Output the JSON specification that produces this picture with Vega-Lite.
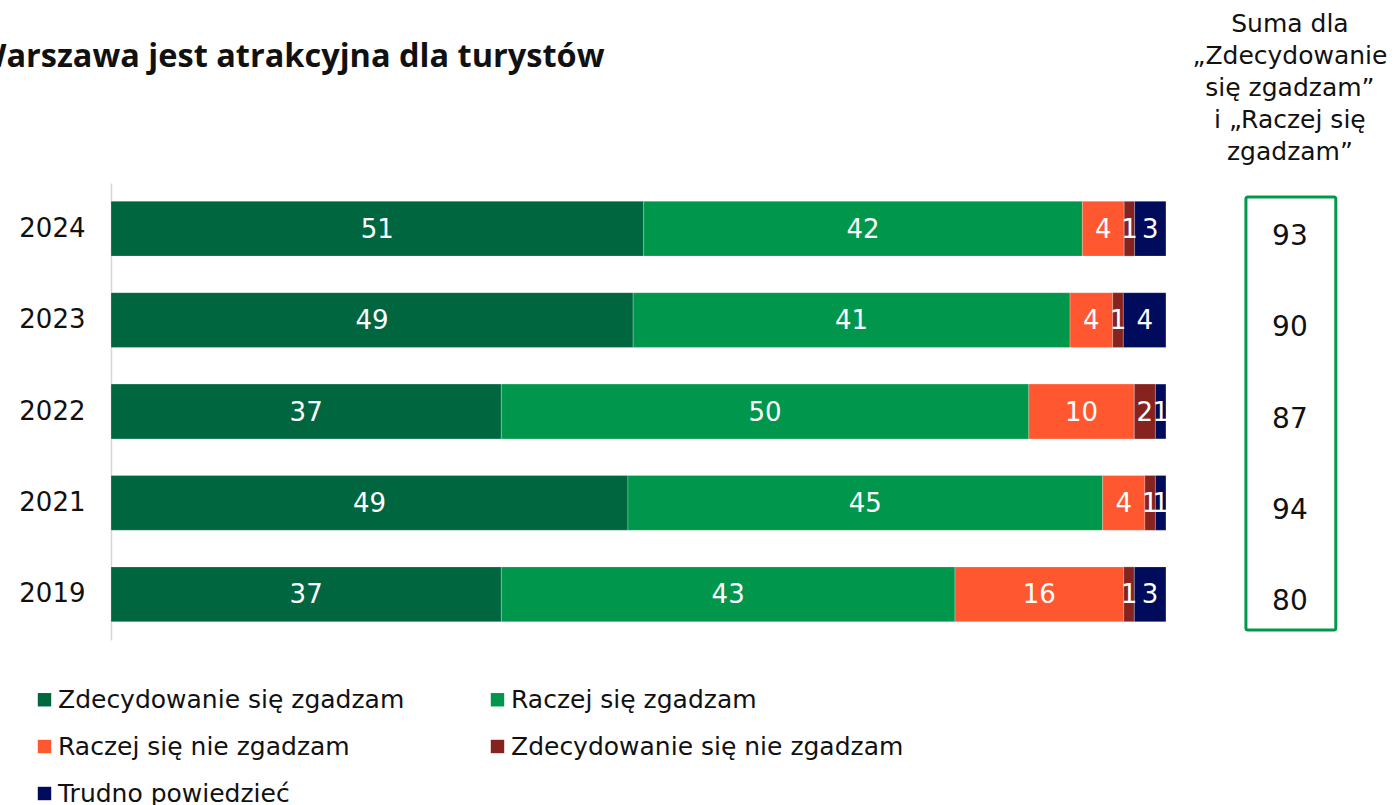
{
  "$schema": "https://vega.github.io/schema/vega-lite/v6.json",
  "width": 1288,
  "height": 457,
  "autosize": {"type": "none"},
  "padding": {"left": 111, "top": 183, "right": 0, "bottom": 165},
  "background": "white",
  "config": {
    "view": {"stroke": null},
    "font": "DejaVu Sans",
    "legend": {
      "orient": "none",
      "legendX": -79,
      "legendY": 504,
      "direction": "horizontal",
      "columns": 2,
      "columnPadding": 80,
      "rowPadding": 21,
      "symbolType": "square",
      "symbolSize": 180,
      "symbolStrokeWidth": 0,
      "labelFontSize": 25,
      "labelColor": "#111111",
      "labelFont": "DejaVu Sans",
      "labelOffset": 1,
      "labelLimit": 600,
      "title": null
    }
  },
  "datasets": {
    "bars": [
      {"year": "2024", "cat": "Zdecydowanie się zgadzam", "o": 1, "value": 51},
      {"year": "2024", "cat": "Raczej się zgadzam", "o": 2, "value": 42},
      {"year": "2024", "cat": "Raczej się nie zgadzam", "o": 3, "value": 4},
      {"year": "2024", "cat": "Zdecydowanie się nie zgadzam", "o": 4, "value": 1},
      {"year": "2024", "cat": "Trudno powiedzieć", "o": 5, "value": 3},
      {"year": "2023", "cat": "Zdecydowanie się zgadzam", "o": 1, "value": 49},
      {"year": "2023", "cat": "Raczej się zgadzam", "o": 2, "value": 41},
      {"year": "2023", "cat": "Raczej się nie zgadzam", "o": 3, "value": 4},
      {"year": "2023", "cat": "Zdecydowanie się nie zgadzam", "o": 4, "value": 1},
      {"year": "2023", "cat": "Trudno powiedzieć", "o": 5, "value": 4},
      {"year": "2022", "cat": "Zdecydowanie się zgadzam", "o": 1, "value": 37},
      {"year": "2022", "cat": "Raczej się zgadzam", "o": 2, "value": 50},
      {"year": "2022", "cat": "Raczej się nie zgadzam", "o": 3, "value": 10},
      {"year": "2022", "cat": "Zdecydowanie się nie zgadzam", "o": 4, "value": 2},
      {"year": "2022", "cat": "Trudno powiedzieć", "o": 5, "value": 1},
      {"year": "2021", "cat": "Zdecydowanie się zgadzam", "o": 1, "value": 49},
      {"year": "2021", "cat": "Raczej się zgadzam", "o": 2, "value": 45},
      {"year": "2021", "cat": "Raczej się nie zgadzam", "o": 3, "value": 4},
      {"year": "2021", "cat": "Zdecydowanie się nie zgadzam", "o": 4, "value": 1},
      {"year": "2021", "cat": "Trudno powiedzieć", "o": 5, "value": 1},
      {"year": "2019", "cat": "Zdecydowanie się zgadzam", "o": 1, "value": 37},
      {"year": "2019", "cat": "Raczej się zgadzam", "o": 2, "value": 43},
      {"year": "2019", "cat": "Raczej się nie zgadzam", "o": 3, "value": 16},
      {"year": "2019", "cat": "Zdecydowanie się nie zgadzam", "o": 4, "value": 1},
      {"year": "2019", "cat": "Trudno powiedzieć", "o": 5, "value": 3}
    ],
    "sums": [
      {"year": "2024", "sum": 93},
      {"year": "2023", "sum": 90},
      {"year": "2022", "sum": 87},
      {"year": "2021", "sum": 94},
      {"year": "2019", "sum": 80}
    ]
  },
  "layer": [
    {
      "layer": [
        {
          "data": {"name": "bars"},
          "mark": {"type": "bar", "stroke": "#ffffff", "strokeWidth": 0.4, "strokeOpacity": 0.6},
          "encoding": {
            "y": {
              "field": "year", "type": "nominal",
              "sort": ["2024", "2023", "2022", "2021", "2019"],
              "scale": {"paddingInner": 0.4, "paddingOuter": 0.2},
              "axis": {
                "title": null, "ticks": false, "labelFontSize": 26, "labelColor": "#111111",
                "labelPadding": 26, "domainColor": "#d6d6d6", "domainWidth": 1.5, "labelFont": "DejaVu Sans"
              }
            },
            "x": {
              "field": "value", "type": "quantitative", "stack": "normalize",
              "scale": {"domain": [0, 1.2209], "nice": false},
              "axis": null
            },
            "order": {"field": "o", "type": "quantitative"},
            "color": {
              "field": "cat", "type": "nominal",
              "scale": {
                "domain": ["Zdecydowanie się zgadzam", "Raczej się zgadzam", "Raczej się nie zgadzam", "Zdecydowanie się nie zgadzam", "Trudno powiedzieć"],
                "range": ["#00663F", "#00964B", "#FF5830", "#86231F", "#000B5C"]
              }
            }
          }
        },
        {
          "data": {"name": "bars"},
          "mark": {"type": "text", "color": "white", "fontSize": 26, "font": "DejaVu Sans", "baseline": "middle", "dy": 1},
          "encoding": {
            "y": {"field": "year", "type": "nominal", "sort": ["2024", "2023", "2022", "2021", "2019"]},
            "x": {"field": "value", "type": "quantitative", "stack": "normalize", "bandPosition": 0.5},
            "order": {"field": "o", "type": "quantitative"},
            "text": {"field": "value", "type": "quantitative"}
          }
        },
        {
          "data": {"name": "sums"},
          "mark": {"type": "text", "color": "#111111", "fontSize": 28, "font": "DejaVu Sans", "baseline": "middle", "dy": 8},
          "encoding": {
            "y": {"field": "year", "type": "nominal", "sort": ["2024", "2023", "2022", "2021", "2019"]},
            "x": {"datum": 1.1175, "type": "quantitative"},
            "text": {"field": "sum", "type": "quantitative"}
          }
        }
      ]
    },
    {
      "data": {"values": [{}]},
      "layer": [
        {
          "mark": {"type": "rect", "filled": false, "stroke": "#00994C", "strokeWidth": 3, "cornerRadius": 2},
          "encoding": {
            "x": {"datum": 1.0758, "type": "quantitative"},
            "x2": {"datum": 1.161},
            "y": {"datum": 14, "type": "quantitative", "scale": {"domain": [0, 457], "reverse": true, "nice": false, "zero": false}, "axis": null},
            "y2": {"datum": 447}
          }
        },
        {
          "mark": {
            "type": "text",
            "text": ["Suma dla", "„Zdecydowanie", "się zgadzam”", "i „Raczej się", "zgadzam”"],
            "fontSize": 25, "lineHeight": 32, "font": "DejaVu Sans", "color": "#111111",
            "align": "center", "baseline": "middle"
          },
          "encoding": {
            "x": {"datum": 1.1175, "type": "quantitative"},
            "y": {"datum": -159, "type": "quantitative"}
          }
        },
        {
          "mark": {
            "type": "text",
            "text": "Warszawa jest atrakcyjna dla turystów",
            "fontSize": 32.5, "font": "Open Sans", "fontWeight": "bold", "color": "#111111",
            "align": "left", "baseline": "alphabetic"
          },
          "encoding": {
            "x": {"datum": -0.1289, "type": "quantitative"},
            "y": {"datum": -116, "type": "quantitative"}
          }
        }
      ]
    }
  ],
  "resolve": {"scale": {"y": "independent"}, "axis": {"y": "independent"}}
}
